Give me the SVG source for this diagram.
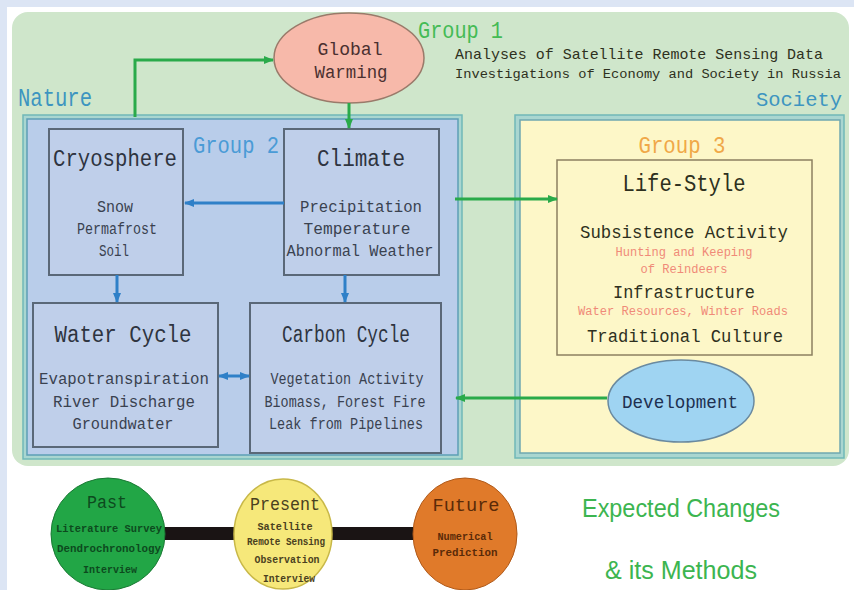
<svg xmlns="http://www.w3.org/2000/svg" width="854" height="590" viewBox="0 0 854 590">
<style>
.m{font-family:"Liberation Mono","DejaVu Sans Mono",monospace}
.hd{font-size:23px;fill:#2e3440}
.bd{font-size:16px;fill:#3a4250}
.ls{font-size:19px;fill:#2e3020}
.rd{font-size:12px;fill:#f08a78}
.box{fill:#bfcfea;stroke:#5a6878;stroke-width:2}
.gl{stroke:#2aaa4a;stroke-width:3;fill:none}
.bl{stroke:#2f80c8;stroke-width:3;fill:none}
.sm{font-size:11px;font-weight:bold}
</style>
<defs>
<marker id="ag" viewBox="0 0 10 8" markerWidth="10" markerHeight="8" refX="9" refY="4" orient="auto" markerUnits="userSpaceOnUse"><path d="M0,0 L10,4 L0,8 z" fill="#2aaa4a"/></marker>
<marker id="ab" viewBox="0 0 10 8" markerWidth="10" markerHeight="8" refX="9" refY="4" orient="auto-start-reverse" markerUnits="userSpaceOnUse"><path d="M0,0 L10,4 L0,8 z" fill="#2f80c8"/></marker>
</defs>
<rect x="0" y="0" width="854" height="590" fill="#dce5f4"/>
<rect x="7" y="7" width="847" height="583" fill="#ffffff"/>
<rect x="12" y="12" width="837" height="454" rx="16" fill="#cfe6cb"/>

<g id="nature">
<rect x="23" y="115" width="439" height="344" fill="#a9d6d0" stroke="#70b8b8" stroke-width="1.5"/>
<rect x="27" y="119" width="431" height="336" fill="#b9cdea" stroke="#5d9fb5" stroke-width="1.5"/>
<text class="m" x="18" y="106" font-size="25" fill="#3d95c0" textLength="74" lengthAdjust="spacingAndGlyphs">Nature</text>
<text class="m" x="193" y="153" font-size="24" fill="#4a9bd6" textLength="86" lengthAdjust="spacingAndGlyphs">Group 2</text>
</g>
<g id="society">
<rect x="515" y="115" width="329" height="343" fill="#a9d6d0" stroke="#70b8b8" stroke-width="1.5"/>
<rect x="520" y="120" width="320" height="333" fill="#fdf7c8" stroke="#6fa8b0" stroke-width="1.5"/>
<text class="m" x="756" y="106" font-size="21" fill="#3d95c0" textLength="86" lengthAdjust="spacingAndGlyphs">Society</text>
<text class="m" x="682" y="153" font-size="24" fill="#f0a848" text-anchor="middle" textLength="87" lengthAdjust="spacingAndGlyphs">Group 3</text>
</g>

<g id="group1">
<text class="m" x="418" y="38" font-size="24" fill="#44bb55" textLength="85" lengthAdjust="spacingAndGlyphs">Group 1</text>
<text class="m" x="455" y="59" font-size="15" fill="#2e3020" textLength="368" lengthAdjust="spacingAndGlyphs">Analyses of Satellite Remote Sensing Data</text>
<text class="m" x="455" y="78" font-size="13.7" fill="#2e3020" textLength="386" lengthAdjust="spacingAndGlyphs">Investigations of Economy and Society in Russia</text>
</g>

<g id="global-warming">
<ellipse cx="349" cy="58" rx="75" ry="45" fill="#f7b9aa" stroke="#9a7a6a" stroke-width="1.5"/>
<text class="m" x="350" y="55" font-size="18" fill="#4a3030" text-anchor="middle" textLength="65" lengthAdjust="spacingAndGlyphs">Global</text>
<text class="m" x="351" y="78" font-size="18" fill="#4a3030" text-anchor="middle" textLength="73" lengthAdjust="spacingAndGlyphs">Warming</text>
</g>

<g id="cryosphere">
<rect class="box" x="49" y="129" width="134" height="146"/>
<text class="m hd" x="115" y="166" text-anchor="middle" textLength="124" lengthAdjust="spacingAndGlyphs">Cryosphere</text>
<text class="m bd" x="115" y="212" text-anchor="middle" textLength="36" lengthAdjust="spacingAndGlyphs">Snow</text>
<text class="m bd" x="117" y="234" text-anchor="middle" textLength="80" lengthAdjust="spacingAndGlyphs">Permafrost</text>
<text class="m bd" x="114" y="256" text-anchor="middle" textLength="30" lengthAdjust="spacingAndGlyphs">Soil</text>
</g>

<g id="climate">
<rect class="box" x="284" y="129" width="155" height="146"/>
<text class="m hd" x="361" y="166" text-anchor="middle" textLength="88" lengthAdjust="spacingAndGlyphs">Climate</text>
<text class="m bd" x="361" y="212" text-anchor="middle" textLength="122" lengthAdjust="spacingAndGlyphs">Precipitation</text>
<text class="m bd" x="357" y="234" text-anchor="middle" textLength="107" lengthAdjust="spacingAndGlyphs">Temperature</text>
<text class="m bd" x="360" y="256" text-anchor="middle" textLength="147" lengthAdjust="spacingAndGlyphs">Abnormal Weather</text>
</g>

<g id="water-cycle">
<rect class="box" x="33" y="303" width="185" height="144"/>
<text class="m hd" x="123" y="342" text-anchor="middle" textLength="137" lengthAdjust="spacingAndGlyphs">Water Cycle</text>
<text class="m bd" x="124" y="384" text-anchor="middle" textLength="170" lengthAdjust="spacingAndGlyphs">Evapotranspiration</text>
<text class="m bd" x="124" y="407" text-anchor="middle" textLength="142" lengthAdjust="spacingAndGlyphs">River Discharge</text>
<text class="m bd" x="123" y="429" text-anchor="middle" textLength="101" lengthAdjust="spacingAndGlyphs">Groundwater</text>
</g>

<g id="carbon-cycle">
<rect class="box" x="250" y="303" width="191" height="150"/>
<text class="m hd" x="346" y="342" text-anchor="middle" textLength="128" lengthAdjust="spacingAndGlyphs">Carbon Cycle</text>
<text class="m bd" x="347" y="384" text-anchor="middle" textLength="153" lengthAdjust="spacingAndGlyphs">Vegetation Activity</text>
<text class="m bd" x="345" y="407" text-anchor="middle" textLength="161" lengthAdjust="spacingAndGlyphs">Biomass, Forest Fire</text>
<text class="m bd" x="346" y="429" text-anchor="middle" textLength="154" lengthAdjust="spacingAndGlyphs">Leak from Pipelines</text>
</g>

<g id="life-style">
<rect x="557" y="160" width="255" height="195" fill="#fdf7c8" stroke="#8c8060" stroke-width="1.5"/>
<text class="m" x="684" y="191" font-size="23" fill="#2e3020" text-anchor="middle" textLength="123" lengthAdjust="spacingAndGlyphs">Life-Style</text>
<text class="m ls" x="684" y="238" text-anchor="middle" textLength="208" lengthAdjust="spacingAndGlyphs">Subsistence Activity</text>
<text class="m rd" x="684" y="256" text-anchor="middle" textLength="137" lengthAdjust="spacingAndGlyphs">Hunting and Keeping</text>
<text class="m rd" x="684" y="273" text-anchor="middle" textLength="87" lengthAdjust="spacingAndGlyphs">of Reindeers</text>
<text class="m ls" x="684" y="298" text-anchor="middle" textLength="142" lengthAdjust="spacingAndGlyphs">Infrastructure</text>
<text class="m rd" x="683" y="315" text-anchor="middle" textLength="210" lengthAdjust="spacingAndGlyphs">Water Resources, Winter Roads</text>
<text class="m ls" x="685" y="342" text-anchor="middle" textLength="196" lengthAdjust="spacingAndGlyphs">Traditional Culture</text>
</g>

<g id="development">
<ellipse cx="681" cy="401" rx="73" ry="41" fill="#9fd4f2" stroke="#6a8aa0" stroke-width="1.5"/>
<text class="m" x="680" y="408" font-size="19" fill="#203050" text-anchor="middle" textLength="116" lengthAdjust="spacingAndGlyphs">Development</text>
</g>

<g id="connectors">
<path class="gl" d="M135,117 V60 H273" marker-end="url(#ag)"/>
<path class="gl" d="M349,103 V128" marker-end="url(#ag)"/>
<path class="bl" d="M284,203 H185" marker-end="url(#ab)"/>
<path class="bl" d="M117,275 V302" marker-end="url(#ab)"/>
<path class="bl" d="M345,275 V302" marker-end="url(#ab)"/>
<path class="bl" d="M219,376 H249" marker-start="url(#ab)" marker-end="url(#ab)"/>
<path class="gl" d="M455,199 H557" marker-end="url(#ag)"/>
<path class="gl" d="M607,398 H456" marker-end="url(#ag)"/>
</g>

<g id="timeline">
<rect x="160" y="527" width="260" height="13" fill="#1a1414"/>
</g>
<g id="past">
<ellipse cx="108" cy="534" rx="57" ry="56" fill="#22a646" stroke="#1a7a34" stroke-width="1"/>
<text class="m" x="107" y="508" font-size="18" fill="#0d4a1e" text-anchor="middle" textLength="40" lengthAdjust="spacingAndGlyphs">Past</text>
<text class="m sm" x="109" y="532" fill="#0d4a1e" text-anchor="middle" textLength="106" lengthAdjust="spacingAndGlyphs">Literature Survey</text>
<text class="m sm" x="109" y="552" fill="#0d4a1e" text-anchor="middle" textLength="104" lengthAdjust="spacingAndGlyphs">Dendrochronology</text>
<text class="m sm" x="110" y="573" fill="#0d4a1e" text-anchor="middle" textLength="54" lengthAdjust="spacingAndGlyphs">Interview</text>
</g>
<g id="present">
<ellipse cx="283" cy="534" rx="49" ry="55" fill="#f6e87a" stroke="#c8b848" stroke-width="1.5"/>
<text class="m" x="285" y="510" font-size="18" fill="#4a4020" text-anchor="middle" textLength="70" lengthAdjust="spacingAndGlyphs">Present</text>
<text class="m sm" x="285" y="530" fill="#4a4020" text-anchor="middle" textLength="55" lengthAdjust="spacingAndGlyphs">Satellite</text>
<text class="m sm" x="286" y="545" fill="#4a4020" text-anchor="middle" textLength="78" lengthAdjust="spacingAndGlyphs">Remote Sensing</text>
<text class="m sm" x="287" y="563" fill="#4a4020" text-anchor="middle" textLength="65" lengthAdjust="spacingAndGlyphs">Observation</text>
<text class="m sm" x="289" y="582" fill="#4a4020" text-anchor="middle" textLength="52" lengthAdjust="spacingAndGlyphs">Interview</text>
</g>
<g id="future">
<ellipse cx="465" cy="534" rx="52" ry="56" fill="#e07a2a" stroke="#b05a1a" stroke-width="1"/>
<text class="m" x="466" y="511" font-size="19" fill="#5a2a08" text-anchor="middle" textLength="67" lengthAdjust="spacingAndGlyphs">Future</text>
<text class="m sm" x="465" y="540" fill="#5a2a08" text-anchor="middle" textLength="55" lengthAdjust="spacingAndGlyphs">Numerical</text>
<text class="m sm" x="465" y="556" fill="#5a2a08" text-anchor="middle" textLength="65" lengthAdjust="spacingAndGlyphs">Prediction</text>
</g>

<g id="caption">
<text x="582" y="517" font-family="Liberation Sans, Arial, sans-serif" font-size="26" fill="#3cb550" textLength="198" lengthAdjust="spacingAndGlyphs">Expected Changes</text>
<text x="605" y="579" font-family="Liberation Sans, Arial, sans-serif" font-size="26" fill="#3cb550" textLength="152" lengthAdjust="spacingAndGlyphs">&amp; its Methods</text>
</g>
</svg>
